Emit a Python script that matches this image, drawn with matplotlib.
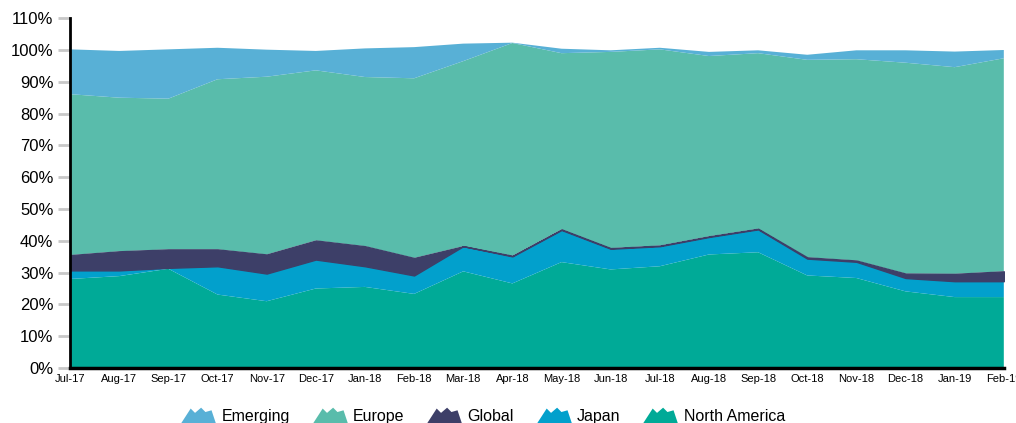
import matplotlib
matplotlib.use("Agg")
import matplotlib.pyplot as plt
from matplotlib.lines import Line2D
from matplotlib.path import Path
from matplotlib.ticker import FuncFormatter

plt.rcParams['font.family'] = ['Liberation Sans', 'DejaVu Sans']

months = ["Jul-17", "Aug-17", "Sep-17", "Oct-17", "Nov-17", "Dec-17", "Jan-18",
          "Feb-18", "Mar-18", "Apr-18", "May-18", "Jun-18", "Jul-18", "Aug-18",
          "Sep-18", "Oct-18", "Nov-18", "Dec-18", "Jan-19", "Feb-19"]

north_america = [28.0, 28.9, 31.2, 23.1, 21.0, 25.0, 25.5, 23.3, 30.4, 26.6,
                 33.3, 31.0, 32.0, 35.7, 36.4, 29.1, 28.3, 24.1, 22.3, 22.3]
japan = [2.7, 1.8, 0.3, 8.9, 8.7, 9.1, 6.5, 5.8, 7.9, 8.5,
         10.1, 6.5, 6.3, 5.5, 7.2, 5.3, 5.1, 4.2, 5.0, 5.0]
global_ = [4.8, 6.0, 5.8, 5.3, 6.0, 6.0, 6.3, 5.5, 0.0, 0.2,
           0.2, 0.2, 0.2, 0.2, 0.2, 0.4, 0.4, 1.4, 2.3, 3.1]
europe = [50.6, 48.3, 47.4, 53.5, 55.9, 53.5, 53.2, 56.5, 58.2, 66.9,
          55.4, 61.7, 61.7, 56.7, 55.2, 62.1, 63.3, 66.3, 65.0, 67.0]
emerging = [14.1, 14.7, 15.5, 9.9, 8.5, 6.1, 9.0, 9.8, 5.5, 0.1,
            1.4, 0.5, 0.5, 1.3, 0.9, 1.6, 2.8, 3.9, 4.9, 2.6]

names = ["Emerging", "Europe", "Global", "Japan", "North America"]
colors = {"Emerging": "#58b0d6", "Europe": "#59bcab", "Global": "#3d3f68",
          "Japan": "#02a0cc", "North America": "#00aa97"}

fig = plt.figure(figsize=(10.16, 4.23), dpi=100)
ax = fig.add_axes([0.069, 0.130, 0.919, 0.827])

x = list(range(len(months)))
series = [("North America", north_america), ("Japan", japan),
          ("Global", global_), ("Europe", europe), ("Emerging", emerging)]
base = [0.0] * len(x)
for name, vals in series:
    top = [b + v for b, v in zip(base, vals)]
    if name == "Global":
        ax.fill_between(x, base, top, facecolor=colors[name],
                        edgecolor=colors[name], linewidth=1.0, zorder=3)
    else:
        ax.fill_between(x, base, top, facecolor=colors[name],
                        linewidth=0, zorder=2)
    base = top

ax.set_xlim(0, len(x) - 1)
ax.set_ylim(0, 110)
ax.set_yticks(range(0, 111, 10))
ax.yaxis.set_major_formatter(FuncFormatter(lambda v, p: f"{int(v)}%"))
ax.set_xticks(x)
ax.set_xticklabels(months, fontsize=8)
ax.tick_params(axis='x', length=0, pad=4)
ax.tick_params(axis='y', length=9, width=2, color="#c8c8c8", labelsize=12, pad=3)

for s in ["top", "right"]:
    ax.spines[s].set_visible(False)
ax.spines["left"].set_linewidth(2)
ax.spines["bottom"].set_linewidth(2.5)
ax.spines["left"].set_zorder(5)
ax.spines["bottom"].set_zorder(5)

mountain = Path([(-1.0, -0.45), (-0.45, 0.4), (-0.2, 0.15), (0.15, 0.45),
                 (0.4, 0.2), (0.75, 0.3), (1.0, -0.45), (-1.0, -0.45)],
                [Path.MOVETO] + [Path.LINETO] * 6 + [Path.CLOSEPOLY])
handles = [Line2D([], [], linestyle="none", marker=mountain, markersize=25,
                  markerfacecolor=colors[n], markeredgewidth=0) for n in names]
fig.legend(handles, names, loc="lower center", bbox_to_anchor=(0.476, -0.036),
           ncol=5, frameon=False, fontsize=11.5, handletextpad=0.45,
           columnspacing=1.5)

fig.savefig("out.png", dpi=100)
